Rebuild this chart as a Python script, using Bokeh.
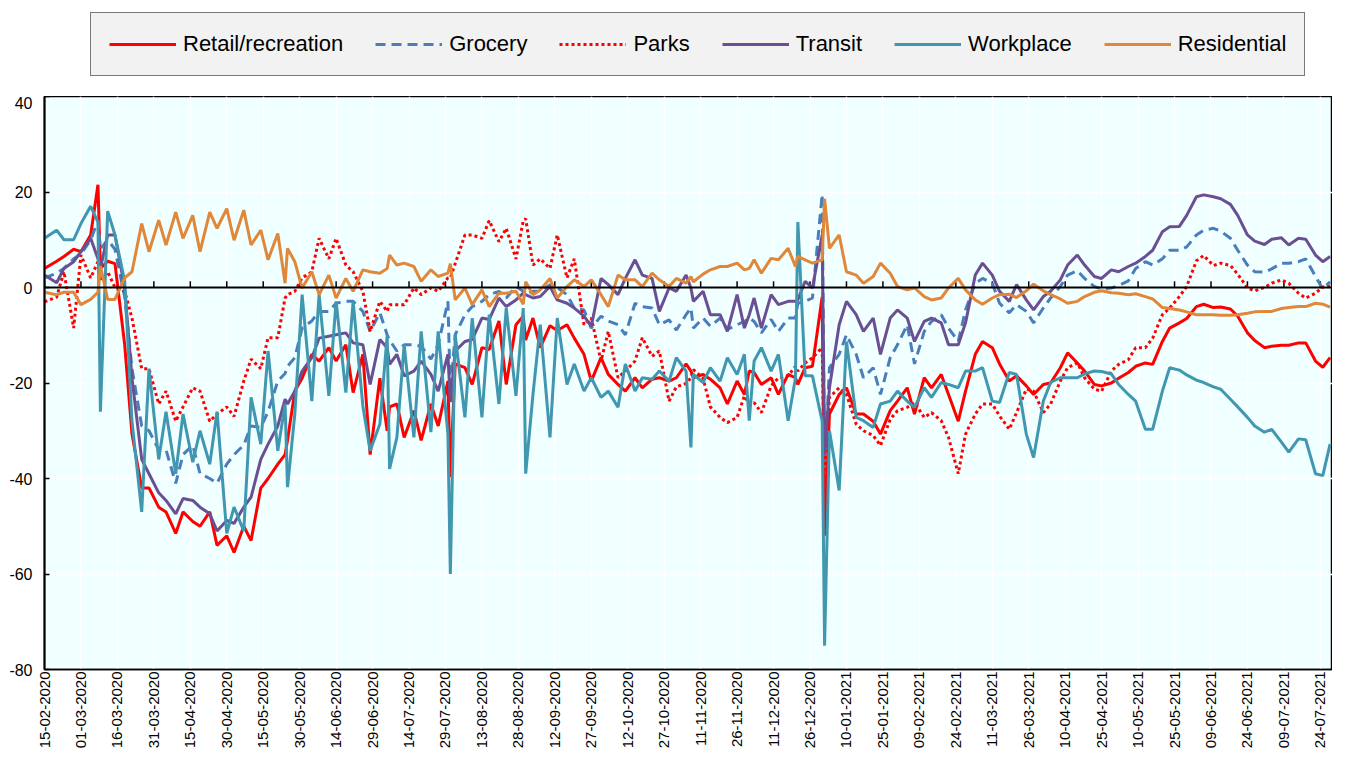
import numpy as np
from bokeh.plotting import figure
from bokeh.layouts import column
from bokeh.models import Range1d, FixedTicker, Legend, LegendItem, Span
from bokeh.embed import file_html
from bokeh.resources import INLINE

# day offset from 15-02-2020
day = [
    0, 5, 8, 12, 15, 19, 22, 23, 26, 29,
    33, 36, 40, 43, 47, 50, 54, 57, 61, 64,
    68, 71, 75, 78, 82, 85, 89, 92, 96, 99,
    100, 103, 106, 110, 113, 117, 120, 124, 127, 131,
    134, 138, 141, 142, 145, 148, 152, 155, 159, 162,
    166, 167, 169, 173, 176, 180, 183, 187, 190, 194,
    197, 198, 201, 204, 208, 211, 215, 218, 222, 225,
    229, 232, 236, 239, 243, 246, 250, 253, 257, 260,
    264, 266, 267, 271, 274, 278, 281, 285, 288, 290,
    292, 295, 299, 302, 306, 309, 310, 313, 316, 320,
    321, 323, 327, 330, 334, 337, 341, 344, 348, 351,
    355, 358, 362, 365, 369, 372, 376, 379, 383, 386,
    390, 393, 397, 400, 404, 407, 411, 414, 418, 421,
    425, 428, 432, 435, 439, 442, 446, 449, 453, 456,
    460, 463, 467, 470, 474, 477, 481, 484, 488, 491,
    495, 498, 502, 505, 509, 512, 516, 519, 523, 526,
    529,
]

retail = [
    4, 5.5, 6.5, 8, 7.5, 11, 21.5, 4, 5.5, 5,
    -12, -30.7, -42, -42, -46, -47, -51.5, -47, -49, -50,
    -47, -54, -52, -55.5, -50, -53, -42, -40, -37, -35,
    -32, -21.7, -19, -14, -15.4, -12.6, -15.4, -12, -22, -14,
    -35, -19, -30, -25, -24.4, -31.4, -25.8, -32, -24.4, -29,
    -19.6, -39.7, -16, -16.8, -20.3, -12.6, -13, -7, -20.3, -7.8,
    -6, -11, -6.4, -12.6, -8, -9, -7.8, -10.6, -14, -19.6,
    -14.7, -18.2, -20.3, -21.7, -18.9, -21, -19.2, -18.9, -19.6, -18.9,
    -16, -17.5, -18.9, -18.2, -19.2, -21, -24.4, -19.6, -22.4, -17.5,
    -17.8, -20.3, -18.9, -22.4, -18.2, -18.9, -20.3, -16.8, -16.5, -2,
    -52, -26.5, -22.4, -21, -26.5, -26.5, -28, -30.7, -25.8, -23.8,
    -21, -26.5, -18.9, -21, -18.2, -22.4, -28, -21.7, -14, -11.3,
    -12.6, -16, -19.6, -18.5, -20.6, -22.4, -20.3, -20, -16.8, -13.7,
    -15.8, -17.5, -20.3, -20.6, -20, -19, -17.8, -16.5, -15.8, -16.1,
    -11.3, -8.5, -7.4, -6.5, -4, -3.5, -4.2, -4.1, -4.5, -6,
    -9.5, -11.1, -12.6, -12.3, -12.1, -12.1, -11.6, -11.6, -15.4, -16.7,
    -14.7,
]

grocery = [
    2, 3, 4, 6, 7, 10, 14, 8, 10, 8,
    -2, -17, -29, -30, -34, -34, -41, -35, -33, -39,
    -40, -41, -37, -35, -33, -29, -29.3, -26, -19.6, -18,
    -16.5, -14.7, -8.5, -7, -5, -5, -3.3, -2.9, -2.9, -5,
    -9.2, -5.3, -9.9, -11, -13.3, -12, -12, -12.3, -15, -12,
    -2.9, -22, -9.9, -5.7, -4, -2.9, -1.5, -0.8, -2.2, 0.2,
    -0.8, -1.5, -0.8, -0.8, 0.6, 0, -1.5, -4.3, -4.7, -8.5,
    -6, -7, -7.8, -9.9, -3.3, -4, -4.3, -7.8, -6.8, -8.9,
    -5.7, -4.3, -8.5, -6.4, -8.1, -6.4, -8.8, -7.8, -7.1, -6.4,
    -7.1, -9.5, -6.7, -9.2, -6.4, -6.4, -3.3, -2.9, -2.2, 19.5,
    -38, -16.8, -14, -9.9, -14, -18.9, -16.8, -22.4, -14.7, -12,
    -7.8, -16, -9.2, -7.1, -5.7, -8.5, -11.3, -4.7, 0.9, 1.9,
    0.9, -3.3, -5.3, -3.6, -5, -7.4, -4.3, -2.2, 0.2, 2.6,
    3.5, 1.9, 0.2, -0.3, -0.1, 0.4, 1.4, 4, 5.4, 4.7,
    6, 7.8, 7.8, 8.5, 11, 12, 12.4, 11.8, 10.3, 7.8,
    4.7, 3.3, 3.2, 3.9, 5.1, 5.1, 5.4, 6, 2.3, -0.3,
    1.2,
]

parks = [
    -3, -2, 3.3, -8.5, 6.8, 2, 5.4, 1.3, 3.3, 0,
    -0.8, -6.4, -17, -17, -24.4, -21.7, -28, -25, -21, -21.7,
    -28, -26.5, -25, -27, -19.6, -15, -17, -10.5, -10.5, -2.2,
    -1.5, -0.8, 2, 3.3, 10.3, 6, 10.3, 4.7, 3.3, -0.8,
    -9.2, -2.9, -5, -3.6, -3.6, -3.6, -0.1, -1.5, -0.1, -0.8,
    2, 2, 5, 11, 11, 10.3, 14, 9.6, 12.4, 6,
    14, 14.4, 4.7, 6, 4, 11, 2, 6, -7.8, -6.4,
    -15.4, -9.2, -18.9, -17.5, -15.4, -10.5, -14.4, -13.3, -23.8, -20.8,
    -20.1, -18.9, -17.2, -19, -25, -27.2, -28.3, -27.2, -22.7, -24.4,
    -24.1, -26.2, -20.6, -18.9, -18.5, -16.5, -17.5, -15.8, -14.7, -12.6,
    -40, -23, -21, -22.4, -28.6, -30, -31, -33.1, -27.6, -25.8,
    -25.1, -24.1, -27.2, -26.2, -27.9, -31.4, -39, -30.7, -26.5, -24.4,
    -24.4, -26.9, -29.7, -26.2, -21.3, -21.7, -26.2, -24.4, -19.6, -16.8,
    -15.8, -18.9, -21.3, -21.7, -17.5, -16.1, -15.1, -12.6, -12.6, -10.6,
    -5.7, -4.3, -1.9, 0.2, 5.6, 6.7, 4.6, 5.1, 4.6, 2.8,
    -0.1, -0.7, 0, 0.9, 1.6, 0.9, -1.2, -2.2, -1.2, 0.1,
    0.2,
]

transit = [
    2.6, 1, 4, 5.4, 7.5, 10.3, 6, 4, 11, 11,
    -0.1, -19, -36, -39, -43, -44.6, -47.4, -44.2, -44.6, -46,
    -47.4, -51, -48.8, -49.4, -46, -43.9, -36, -32.8, -29, -23.4,
    -24.4, -21.7, -17.5, -14.7, -10.6, -10.2, -9.9, -9.5, -11.6, -12,
    -20.3, -10.9, -12.6, -16.1, -14, -18.5, -17.5, -15.4, -18.2, -21.7,
    -14, -24, -13.3, -11.3, -10.9, -6.4, -6.7, -2.2, -4, -2.6,
    -1.2, -1.5, -2.2, -1.9, 0.2, -2.6, -3.3, -4.3, -6, -8.1,
    1.9, 0.6, -1.5, 1.9, 5.8, 2.6, 1.9, -5, -0.1, -0.8,
    2.6, -0.1, -2.9, -0.8, -5.7, -5.7, -9.2, -1.5, -8.5, -5.7,
    -2.2, -8.5, -1.5, -3.6, -2.9, -2.9, -2.6, 1.3, -0.1, 11,
    -35, -21, -7.8, -2.9, -5.7, -9.2, -6.4, -14, -6.4, -4.7,
    -6.4, -11.3, -7.1, -6.4, -7.4, -12, -12, -7.4, 2.6, 5.1,
    2.6, -0.8, -2.9, 0.6, -2.6, -4.7, -1.9, -0.8, 1.6, 4.7,
    6.8, 4.7, 2.3, 1.9, 3.7, 3.3, 4.4, 5.1, 6.5, 7.8,
    11.7, 12.7, 12.8, 15.1, 19, 19.4, 19, 18.6, 17.4, 15.1,
    11, 9.7, 9, 10.1, 10.4, 8.9, 10.3, 10.1, 6.8, 5.4,
    6.5,
]

workplace = [
    10.3, 12, 10, 10, 13.4, 17, 13.7, -26, 16, 11,
    1.3, -28, -47, -17, -36, -26, -39, -26.5, -36.6, -30,
    -37, -26, -51.5, -46, -51, -23, -32.8, -13.3, -34.2, -24.4,
    -41.8, -26.5, -1.5, -23.8, -1.5, -22.7, -2.9, -22, -2.9, -24.8,
    -34.2, -28.6, -10, -38, -31.4, -12, -31.4, -9.2, -30.3, -9.2,
    -30.7, -60, -9.9, -27.2, -6.4, -27.2, -5.7, -24.4, -4.3, -22.7,
    -4.3, -39, -22.4, -7.8, -31.4, -6.4, -20.3, -16, -21.7, -18.9,
    -23, -21.7, -25.1, -16, -21.7, -18.9, -19.2, -17.5, -19.6, -14.7,
    -17.5, -33.5, -18.2, -19.9, -16.8, -19.6, -14.7, -18.2, -14, -27.9,
    -15.4, -12.6, -17.5, -14, -27.9, -19, 13.7, -18.5, -18.5, -28,
    -75, -30, -42.5, -11.3, -27.2, -27.9, -29.3, -24.4, -23.8, -21.7,
    -23.8, -25.1, -21, -23, -19.9, -20.3, -21, -17.5, -17.5, -16.8,
    -23.8, -24.1, -17.8, -18.2, -30.7, -35.6, -23.8, -19.9, -18.9, -18.9,
    -18.9, -18.1, -17.5, -17.6, -18.1, -20.3, -22.4, -23.8, -29.7, -29.7,
    -21.7, -16.8, -17.3, -18.3, -19.4, -19.9, -20.8, -21.3, -23.4, -25,
    -27.2, -29, -30.3, -29.7, -32.4, -34.5, -31.7, -31.9, -39, -39.4,
    -32.8,
]

residential = [
    -1, -1.5, -1, -1, -3.6, -2.5, -1, 4.5, -2.5, -2.5,
    2, 3.3, 13.4, 7.5, 14.1, 8.9, 15.8, 10.3, 15.1, 7.5,
    15.8, 12.4, 16.5, 9.9, 16.2, 8.9, 12, 5.8, 11.3, 0.9,
    8.2, 5.4, -0.1, 3.3, -1.5, 2.6, -2.2, 1.9, -0.8, 3.7,
    3.3, 3, 4, 6.8, 4.7, 5.1, 4.4, 1.3, 3.7, 2.3,
    3, 5, -2.6, -0.1, -3.6, -0.5, -4, -1.2, -1.2, -0.8,
    -3.5, 1.2, -1.5, -0.5, 1.9, -2.2, 0.2, 1.6, 0.2, 1.6,
    -1.5, -4, 2.6, 1.6, 1.6, 0.2, 3, 1.6, 0.2, 1.9,
    0.9, 2.3, 1.2, 2.8, 3.7, 4.4, 4.4, 5.1, 3.7, 4,
    5.8, 3, 6.1, 5.8, 8.2, 4.4, 6.5, 5.8, 5.1, 5.8,
    18.6, 8.2, 11, 3.3, 2.6, 0.9, 2.3, 5.1, 3, 0.2,
    -0.5, -0.1, -1.9, -2.6, -2.2, -0.1, 1.9, -0.5, -2.6, -3.5,
    -2.2, -1.5, -1.4, -2.1, -0.7, 0.7, -0.7, -1.5, -2.4, -3.3,
    -2.9, -1.9, -1, -0.7, -1.1, -1.2, -1.5, -1.3, -1.9, -2.4,
    -4.2, -4.4, -4.7, -5.1, -5.7, -5.7, -5.7, -5.8, -5.8, -5.7,
    -5.4, -5.1, -5, -5, -4.4, -4.2, -4, -4, -3.3, -3.5,
    -4.1,
]

series_names = ["Retail/recreation", "Grocery", "Parks", "Transit", "Workplace", "Residential"]

tick_days = list(range(0, 526, 15))
tick_labels = [
    "15-02-2020", "01-03-2020", "16-03-2020", "31-03-2020", "15-04-2020", "30-04-2020",
    "15-05-2020", "30-05-2020", "14-06-2020", "29-06-2020", "14-07-2020", "29-07-2020",
    "13-08-2020", "28-08-2020", "12-09-2020", "27-09-2020", "12-10-2020", "27-10-2020",
    "11-11-2020", "26-11-2020", "11-12-2020", "26-12-2020", "10-01-2021", "25-01-2021",
    "09-02-2021", "24-02-2021", "11-03-2021", "26-03-2021", "10-04-2021", "25-04-2021",
    "10-05-2021", "25-05-2021", "09-06-2021", "24-06-2021", "09-07-2021", "24-07-2021",
]
y_ticks = [-80, -60, -40, -20, 0, 20, 40]
y_labels = ["-80", "-60", "-40", "-20", "0", "20", "40"]

FONT = "Liberation Sans"

styles = [
    dict(line_color="#FF0000", line_width=3, line_dash="solid"),
    dict(line_color="#4A7EBB", line_width=3, line_dash="10 6"),
    dict(line_color="#FF0000", line_width=3, line_dash="3 3"),
    dict(line_color="#6A4F93", line_width=3, line_dash="solid"),
    dict(line_color="#4197AF", line_width=3, line_dash="solid"),
    dict(line_color="#E0873A", line_width=3, line_dash="solid"),
]
data = [retail, grocery, parks, transit, workplace, residential]

# ---- legend strip (series drawn out of its visible range; only the legend shows) ----
leg = figure(width=1332, height=96, x_range=Range1d(-2000, -1000), y_range=Range1d(-2000, -1000),
             output_backend="svg", toolbar_location=None,
             x_axis_location=None, y_axis_location=None,
             min_border=0, outline_line_color=None,
             background_fill_color="white", border_fill_color="white")
leg.grid.visible = False
leg_renderers = [leg.line(day, vals, **st) for vals, st in zip(data, styles)]
legend = Legend(items=[LegendItem(label=n, renderers=[r]) for n, r in zip(series_names, leg_renderers)],
                orientation="horizontal", location=(46, 20),
                label_text_font=FONT, label_text_font_size="22px", label_text_color="black",
                glyph_width=67, glyph_height=20, label_height=20, label_standoff=7,
                spacing=32, padding=18, margin=0,
                background_fill_color="#F2F2F2", background_fill_alpha=1,
                border_line_color="black", border_line_width=1.5)
leg.add_layout(legend, "center")

# ---- main chart ----
p = figure(width=1332, height=655, x_range=Range1d(0, 530), y_range=Range1d(-80, 40),
           output_backend="svg", toolbar_location=None,
           background_fill_color="#F0FFFF", border_fill_color="white",
           min_border_left=44, min_border_right=0, min_border_top=0, min_border_bottom=60)

p.outline_line_color = "black"
p.outline_line_width = 1.5

p.xgrid.grid_line_color = "white"
p.ygrid.grid_line_color = "white"
p.xgrid.grid_line_width = 1.5
p.ygrid.grid_line_width = 1.5

p.add_layout(Span(location=0, dimension="width", line_color="black", line_width=2))
p.segment(x0=tick_days, y0=[0] * len(tick_days), x1=tick_days, y1=[1.3] * len(tick_days),
          line_color="black", line_width=1.5)

for vals, st in zip(data, styles):
    p.line(day, vals, **st)

p.xaxis.ticker = FixedTicker(ticks=tick_days)
p.xaxis.major_label_overrides = {d: lab for d, lab in zip(tick_days, tick_labels)}
p.xaxis.major_label_orientation = np.pi / 2
p.xaxis.major_label_text_font = "Arial"
p.xaxis.major_label_text_font_size = "15px"
p.xaxis.major_label_text_line_height = 1.0
p.xaxis.major_label_text_color = "black"
p.xaxis.major_tick_line_color = None
p.xaxis.minor_tick_line_color = None
p.xaxis.major_tick_in = 0
p.xaxis.major_tick_out = 0
p.xaxis.minor_tick_in = 0
p.xaxis.minor_tick_out = 0
p.xaxis.major_label_standoff = 2
p.xaxis.axis_line_color = "black"
p.xaxis.axis_line_width = 1.5

p.yaxis.ticker = FixedTicker(ticks=y_ticks)
p.yaxis.major_label_overrides = {t: s for t, s in zip(y_ticks, y_labels)}
p.yaxis.major_label_text_font = FONT
p.yaxis.major_label_text_font_size = "16px"
p.yaxis.major_label_text_color = "black"
p.yaxis.major_tick_in = 5
p.yaxis.major_tick_out = 0
p.yaxis.minor_tick_in = 0
p.yaxis.minor_tick_out = 0
p.yaxis.major_tick_line_color = "black"
p.yaxis.major_tick_line_width = 1.5
p.yaxis.minor_tick_line_color = None
p.yaxis.major_label_standoff = 12
p.yaxis.axis_line_color = "black"
p.yaxis.axis_line_width = 2

layout = column(leg, p, spacing=0)
open("out.html", "w").write(file_html(layout, INLINE))
